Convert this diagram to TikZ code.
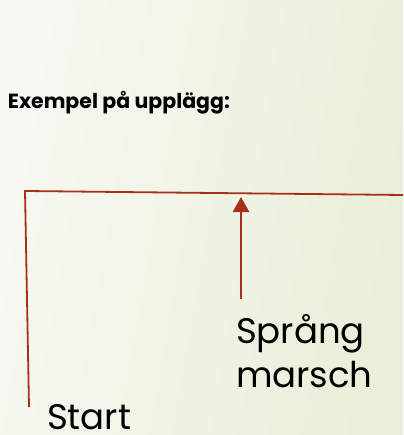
\documentclass[tikz,border=0pt]{standalone}
\usepackage{fontspec}
\setmainfont{Poppins}
\usetikzlibrary{arrows.meta}
\definecolor{framered}{RGB}{168,48,24}
\definecolor{bgleft}{RGB}{247,248,242}
\definecolor{bgright}{RGB}{233,239,216}
\tikzset{
  txt/.style={inner sep=0pt, outer sep=0pt, anchor=base west, text=black},
  bigtxt/.style={txt, font=\fontsize{35.5}{42}\selectfont},
  frameline/.style={draw=framered, line width=1.8pt},
  uparrow/.style={draw=framered, line width=2.6pt, -{Triangle[width=16pt,length=15pt]}},
}
\begin{document}
\begin{tikzpicture}[x=1pt,y=1pt]
  \shade[left color=bgleft, right color=bgright, shading angle=80] (0,0) rectangle (403,-435);
  \useasboundingbox (0,0) rectangle (403,-435);
  \node[txt, font=\fontsize{20.5}{24}\selectfont\bfseries] (title) at (8,-109) {Exempel på upplägg:};
  \coordinate (bl) at (29,-407);
  \coordinate (tl) at (25,-191);
  \coordinate (tr) at (403,-195);
  \draw[frameline] (bl) -- (tl) -- (tr);
  \coordinate (abot) at (241,-299);
  \coordinate (atip) at (241,-197);
  \draw[uparrow] (abot) -- (atip);
  \node[bigtxt] (spr) at (236,-343) {Språng};
  \node[bigtxt] (mar) at (236,-387) {marsch};
  \node[bigtxt] (start) at (47,-429.5) {Start};
\end{tikzpicture}
\end{document}
